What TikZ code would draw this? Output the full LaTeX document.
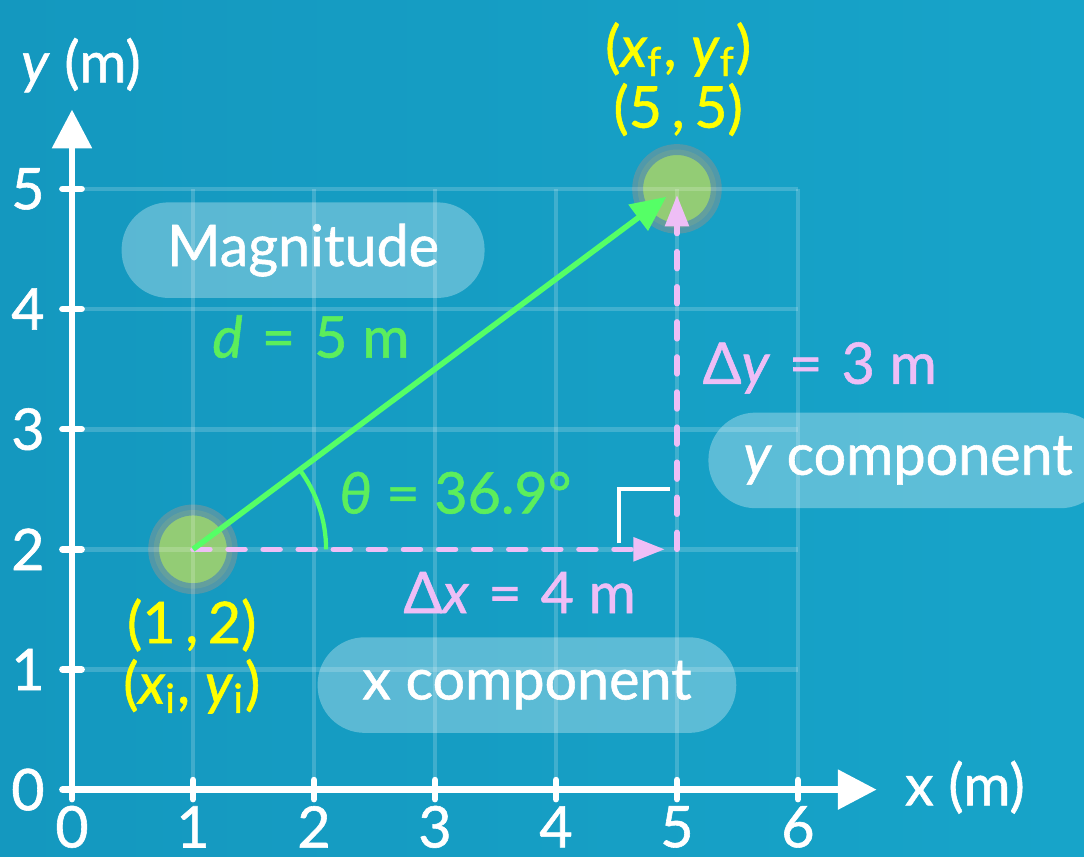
\documentclass[tikz,border=0pt]{standalone}
\usepackage{fontspec}
\setmainfont{Lato}[FakeBold=1.0]
\usepackage{xcolor}
\usepackage{tikz}
\usetikzlibrary{positioning,arrows.meta,calc}
\definecolor{sea}{HTML}{17A4C9}
\definecolor{seadark}{HTML}{1498BF}
\definecolor{vecgreen}{HTML}{55FF66}
\definecolor{txtgreen}{HTML}{5CEE5C}
\definecolor{lilac}{HTML}{EEBEF6}
\definecolor{ptfill}{HTML}{93CC75}
\definecolor{ptring}{HTML}{5B98A6}
\definecolor{coordyel}{HTML}{FFFF00}
\tikzset{
  axis/.style={line width=1.5pt, white, line cap=round, -{Triangle[length=3.2mm,width=3.2mm]}},
  tickln/.style={line width=1.5pt, white, line cap=round},
  gridln/.style={white, opacity=0.18, line width=1.1pt},
  vec/.style={line width=1.3pt, vecgreen, -{Triangle[length=2.9mm,width=2.6mm]}},
  comp/.style={line width=1.3pt, lilac, line cap=round, dash pattern=on 1.4mm off 1.5mm, -{Triangle[length=2.6mm,width=1.9mm]}},
  pill/.style={rounded corners=3.9mm, fill=white, fill opacity=0.3, text opacity=1, text=white, minimum height=7.9mm, inner sep=0pt},
  pt/.style={circle, fill=ptfill, draw=ptring, draw opacity=0.85, line width=0.9mm, minimum size=6.5mm, inner sep=0pt},
  yel/.style={text=coordyel},
  grn/.style={text=txtgreen},
  pnk/.style={text=lilac},
  wht/.style={text=white},
  rightang/.style={white, line width=1pt},
  anglearc/.style={vecgreen, line width=1pt},
}

\begin{document}
\begin{tikzpicture}[x=1cm, y=0.993cm, font=\fontsize{13.5}{16}\selectfont]
  % background
  \clip (-0.595,-0.557) rectangle (8.364,6.572);
  \shade[left color=seadark, right color=sea] (-0.595,-0.557) rectangle (8.364,6.572);

  % labelled boxes
  \node[pill, minimum width=3.0cm] (mag) at (1.91,4.49) {Magnitude};
  \node[pill, minimum width=3.46cm] (xc) at (3.76,0.87) {x component};
  \node[pill, minimum width=3.3cm] (yc) at (6.91,2.74) {\textit{y} component};

  % end points
  \node[pt] (P1) at (1,2) {};
  \node[pt] (P2) at (5,5) {};
  \coordinate (C) at (5,2);

  % grid
  \foreach \i in {1,...,6} \draw[gridln] (\i,0) -- (\i,5);
  \foreach \j in {1,...,5} \draw[gridln] (0,\j) -- (6,\j);

  % axes
  \coordinate (O) at (0,0);
  \coordinate (xend) at (6.65,0);
  \coordinate (yend) at (0,5.66);
  \draw[axis] (O) -- (xend);
  \draw[axis] (O) -- (yend);
  \foreach \i in {0,...,6} {
    \draw[tickln] (\i,-0.08) -- (\i,0.08);
    \node[wht, inner sep=0pt] (xt\i) at (\i,-0.31) {\i};
  }
  \foreach \j in {0,...,5} {
    \draw[tickln] (-0.08,\j) -- (0.08,\j);
    \node[wht] (yt\j) at (-0.364,\j) {\j};
  }
  \node[wht] (xlab) at (7.38,0.02) {x (m)};
  \node[wht] (ylab) at (0.074,6.03) {\textit{y} (m)};

  % components and displacement
  \draw[comp, shorten >=1mm] (P1.center) -- (C);
  \draw[comp, shorten >=0.5mm] (C) -- (P2.center);
  \draw[vec, shorten >=1.1mm] (P1.center) -- (P2.center);
  \draw[anglearc] ($(P1.center)+(1.1,0)$) arc[start angle=0, end angle=36.87, radius=1.1cm];
  \draw[rightang] ($(C)+(-0.48,0.05)$) -- ++(0,0.45) -- ++(0.42,0);

  % texts
  \node[yel] (fsym) at (5.01,6.16) {(\textit{x}\textsubscript{f}, \textit{y}\textsubscript{f})};
  \node[yel] (fval) at (5.01,5.66) {(5\,,\,5)};
  \node[yel] (ival) at (0.99,1.37) {(1\,,\,2)};
  \node[yel] (isym) at (0.99,0.86) {(\textit{x}\textsubscript{i}, \textit{y}\textsubscript{i})};
  \node[grn] (dlab) at (1.975,3.77) {\textit{d}\,\,=\,\,5 m};
  \node[grn] (thlab) at (3.17,2.47) {\textit{θ} = 36.9°};
  \node[pnk] (dylab) at (6.18,3.51) {Δ\textit{y}\,\,=\,\,3 m};
  \node[pnk] (dxlab) at (3.70,1.64) {Δ\textit{x}\,\,=\,\,4 m};
\end{tikzpicture}
\end{document}
